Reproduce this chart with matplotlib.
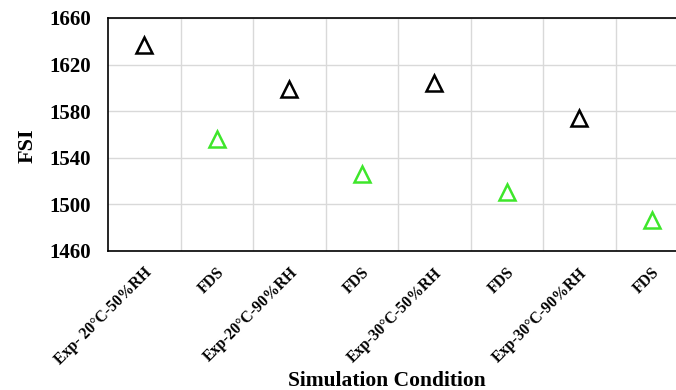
import matplotlib.pyplot as plt
import numpy as np

plt.rcParams['font.family'] = ['Liberation Serif', 'DejaVu Serif']
plt.rcParams['font.weight'] = 'bold'

categories = ['Exp- 20°C-50%RH', 'FDS', 'Exp-20°C-90%RH', 'FDS',
              'Exp-30°C-50%RH', 'FDS', 'Exp-30°C-90%RH', 'FDS']
fsi = [1637, 1556, 1599, 1526, 1604, 1511, 1574, 1487]
colors = ['black', '#3ee62b'] * 4
yticks = [1460, 1500, 1540, 1580, 1620, 1660]

fig = plt.figure(figsize=(6.76, 3.9), dpi=100)
ax = fig.add_axes([108 / 676, 1 - 251 / 390, 580 / 676, 233 / 390])

x = np.arange(len(categories))
for xi, yi, c in zip(x, fsi, colors):
    ax.plot(xi, yi, marker='^', markersize=11, markerfacecolor='none',
            markeredgecolor=c, markeredgewidth=1.8, linestyle='none')

ax.set_xlim(-0.5, len(categories) - 0.5)
ax.set_ylim(1460, 1660)
ax.set_yticks(yticks)
ax.set_yticklabels([str(t) for t in yticks], fontsize=15, fontweight='bold')
ax.set_xticks(x)
ax.set_xticklabels(categories, rotation=45, ha='right', rotation_mode='anchor',
                   fontsize=11.3, fontweight='bold')
ax.set_xticks(x[:-1] + 0.5, minor=True)
ax.tick_params(axis='both', which='both', length=0)
ax.tick_params(axis='y', pad=12)
ax.tick_params(axis='x', pad=10)
ax.grid(axis='y', which='major', color='#d9d9d9', linewidth=1)
ax.grid(axis='x', which='minor', color='#d9d9d9', linewidth=1)
ax.set_axisbelow(True)
for s in ax.spines.values():
    s.set_color('black')
    s.set_linewidth(1.2)

ax.set_ylabel('FSI', fontsize=16, fontweight='bold')
ax.yaxis.set_label_coords(28 / 676, 1 - 146 / 390, transform=fig.transFigure)
ax.yaxis.label.set_va('center')
ax.set_xlabel('Simulation Condition', fontsize=15.5, fontweight='bold')
ax.xaxis.set_label_coords(387 / 676, 1 - 381 / 390, transform=fig.transFigure)
ax.xaxis.label.set_va('center')

fig.savefig('out.png', dpi=100)
